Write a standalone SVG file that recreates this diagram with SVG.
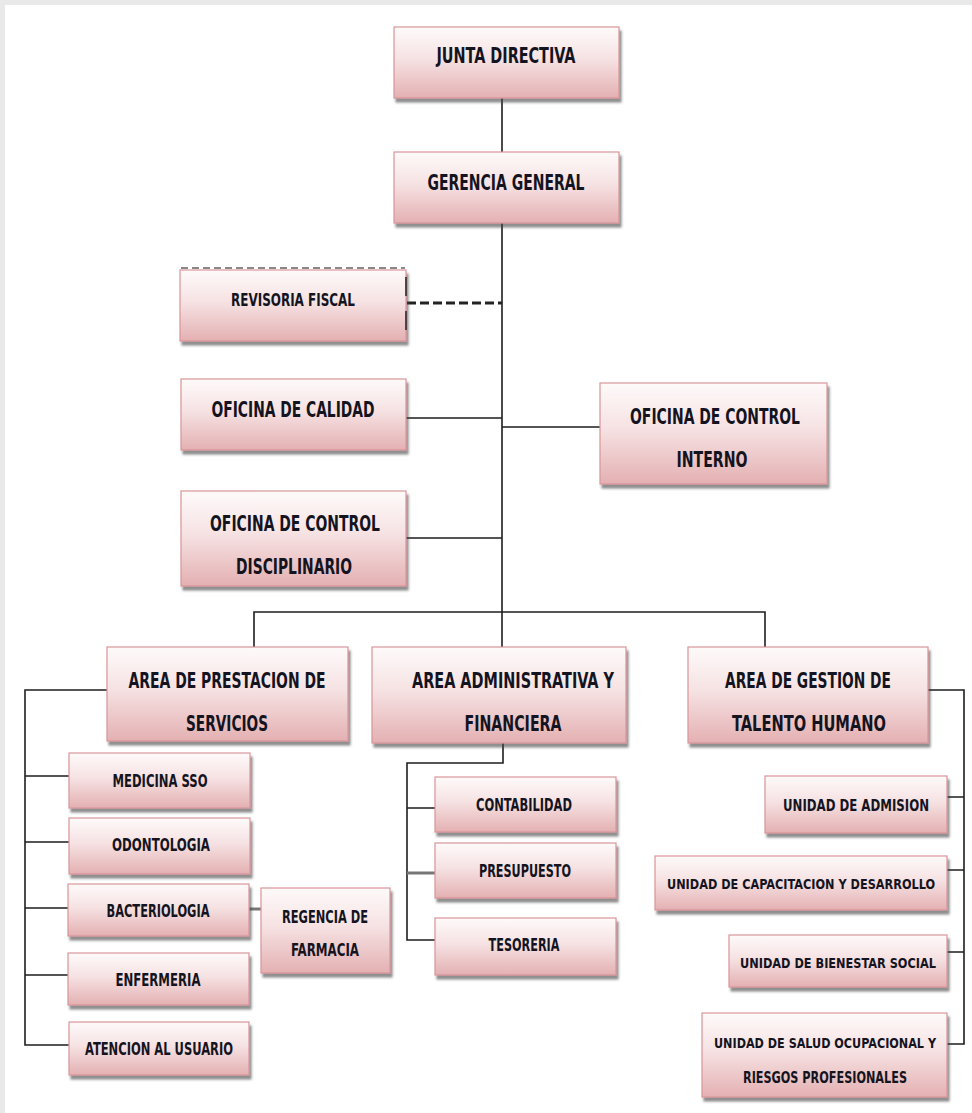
<svg xmlns="http://www.w3.org/2000/svg" width="972" height="1113" viewBox="0 0 972 1113">
<defs>
<linearGradient id="g" x1="0" y1="0" x2="0" y2="1">
<stop offset="0" stop-color="#fefafa"/>
<stop offset="0.45" stop-color="#f6e2e3"/>
<stop offset="1" stop-color="#e4b0b2"/>
</linearGradient>
<filter id="sh" x="-5%" y="-10%" width="115%" height="130%">
<feDropShadow dx="2" dy="4" stdDeviation="1.2" flood-color="#444" flood-opacity="0.6"/>
</filter>
</defs>
<style>
.b{fill:url(#g);stroke:#d9959a;stroke-width:1.2;filter:url(#sh)}
.t{font-family:"Liberation Sans Narrow","DejaVu Sans Condensed","Liberation Sans",sans-serif;font-weight:bold;fill:#141420;text-anchor:middle;font-size:22px}
.s{font-size:18px}
.m{font-size:16px}
.x{font-size:14px}
.c{fill:none;stroke:#1e1e1e;stroke-width:1.6}
.cg{fill:none;stroke:#777;stroke-width:3}
</style>
<rect x="0" y="0" width="972" height="1113" fill="#e9e9e9"/>
<rect x="5" y="5" width="967" height="1108" fill="#ffffff"/>

<g id="connectors">
<path class="c" d="M502 98V612M254 647V612H765V647M502 612V647"/>
<path class="c" d="M406 418H502M502 427H600M406 538H502"/>
<path d="M407 303H502" fill="none" stroke="#222" stroke-width="3" stroke-dasharray="9,4"/>
<path class="c" d="M107 690H25V1045H69M25 776H69M25 842H69M25 908H68M25 975H68"/>
<path class="cg" d="M249 909H261" stroke-width="2.5"/>
<path class="c" d="M503 743V763H407V940H435M407 808H435"/>
<path class="cg" d="M407 873H435" stroke-width="2.5"/>
<path class="c" d="M928 690H964V1044H947M947 797H964M947 870H964M947 952H964"/>
</g>

<g id="junta"><rect class="b" x="394" y="27" width="225" height="71"/><text class="t" x="506" y="63" textLength="139" lengthAdjust="spacingAndGlyphs">JUNTA DIRECTIVA</text></g>
<g id="gerencia"><rect class="b" x="394" y="152" width="225" height="71"/><text class="t" x="506" y="190" textLength="157" lengthAdjust="spacingAndGlyphs">GERENCIA GENERAL</text></g>
<g id="revisoria"><rect class="b" x="180" y="270" width="226" height="71"/>
<path d="M181 268H405" stroke="#888" stroke-width="2" stroke-dasharray="7,4"/>
<path d="M406 277V296M406 311V330" stroke="#222" stroke-width="1.5"/>
<text class="t s" x="293" y="306" textLength="124" lengthAdjust="spacingAndGlyphs">REVISORIA FISCAL</text></g>
<g id="calidad"><rect class="b" x="181" y="379" width="225" height="71"/><text class="t" x="293" y="417" textLength="163" lengthAdjust="spacingAndGlyphs">OFICINA DE CALIDAD</text></g>
<g id="control-interno"><rect class="b" x="600" y="383" width="227" height="101"/><text class="t" x="715" y="424" textLength="170" lengthAdjust="spacingAndGlyphs">OFICINA DE CONTROL</text><text class="t" x="712" y="467" textLength="71" lengthAdjust="spacingAndGlyphs">INTERNO</text></g>
<g id="control-disciplinario"><rect class="b" x="181" y="491" width="225" height="95"/><text class="t" x="295" y="531" textLength="170" lengthAdjust="spacingAndGlyphs">OFICINA DE CONTROL</text><text class="t" x="294" y="574" textLength="116" lengthAdjust="spacingAndGlyphs">DISCIPLINARIO</text></g>

<g id="area-prestacion"><rect class="b" x="107" y="647" width="241" height="94"/><text class="t" x="227" y="688" textLength="197" lengthAdjust="spacingAndGlyphs">AREA DE PRESTACION  DE</text><text class="t" x="227" y="731" textLength="82" lengthAdjust="spacingAndGlyphs">SERVICIOS</text></g>
<g id="area-administrativa"><rect class="b" x="372" y="647" width="254" height="96"/><text class="t" x="513" y="688" textLength="202" lengthAdjust="spacingAndGlyphs">AREA ADMINISTRATIVA  Y</text><text class="t" x="513" y="731" textLength="97" lengthAdjust="spacingAndGlyphs">FINANCIERA</text></g>
<g id="area-talento"><rect class="b" x="688" y="647" width="240" height="96"/><text class="t" x="808" y="688" textLength="166" lengthAdjust="spacingAndGlyphs">AREA DE GESTION DE</text><text class="t" x="809" y="731" textLength="154" lengthAdjust="spacingAndGlyphs">TALENTO HUMANO</text></g>

<g id="medicina"><rect class="b" x="69" y="753" width="181" height="55"/><text class="t s" x="160" y="787" textLength="95" lengthAdjust="spacingAndGlyphs">MEDICINA SSO</text></g>
<g id="odontologia"><rect class="b" x="69" y="818" width="181" height="56"/><text class="t s" x="161" y="851" textLength="98" lengthAdjust="spacingAndGlyphs">ODONTOLOGIA</text></g>
<g id="bacteriologia"><rect class="b" x="68" y="884" width="181" height="52"/><text class="t s" x="158" y="917" textLength="103" lengthAdjust="spacingAndGlyphs">BACTERIOLOGIA</text></g>
<g id="enfermeria"><rect class="b" x="68" y="953" width="181" height="52"/><text class="t s" x="158" y="986" textLength="85" lengthAdjust="spacingAndGlyphs">ENFERMERIA</text></g>
<g id="atencion"><rect class="b" x="69" y="1022" width="180" height="53"/><text class="t s" x="159" y="1055" textLength="148" lengthAdjust="spacingAndGlyphs">ATENCION AL USUARIO</text></g>
<g id="regencia"><rect class="b" x="261" y="888" width="129" height="85"/><text class="t s" x="325" y="923" textLength="86" lengthAdjust="spacingAndGlyphs">REGENCIA DE</text><text class="t s" x="325" y="956" textLength="68" lengthAdjust="spacingAndGlyphs">FARMACIA</text></g>

<g id="contabilidad"><rect class="b" x="435" y="777" width="181" height="55"/><text class="t s" x="524" y="811" textLength="96" lengthAdjust="spacingAndGlyphs">CONTABILIDAD</text></g>
<g id="presupuesto"><rect class="b" x="435" y="843" width="181" height="55"/><text class="t s" x="525" y="877" textLength="92" lengthAdjust="spacingAndGlyphs">PRESUPUESTO</text></g>
<g id="tesoreria"><rect class="b" x="435" y="918" width="181" height="57"/><text class="t s" x="524" y="951" textLength="71" lengthAdjust="spacingAndGlyphs">TESORERIA</text></g>

<g id="admision"><rect class="b" x="765" y="776" width="182" height="57"/><text class="t m" x="856" y="811" textLength="146" lengthAdjust="spacingAndGlyphs">UNIDAD DE ADMISION</text></g>
<g id="capacitacion"><rect class="b" x="655" y="856" width="292" height="54"/><text class="t x" x="801" y="889" textLength="268" lengthAdjust="spacingAndGlyphs">UNIDAD DE CAPACITACION Y DESARROLLO</text></g>
<g id="bienestar"><rect class="b" x="729" y="935" width="218" height="52"/><text class="t x" x="838" y="968" textLength="196" lengthAdjust="spacingAndGlyphs">UNIDAD DE BIENESTAR SOCIAL</text></g>
<g id="salud"><rect class="b" x="702" y="1013" width="245" height="84"/><text class="t x" x="825" y="1048" textLength="222" lengthAdjust="spacingAndGlyphs">UNIDAD DE SALUD OCUPACIONAL Y</text><text class="t m" x="825" y="1083" textLength="164" lengthAdjust="spacingAndGlyphs">RIESGOS PROFESIONALES</text></g>
</svg>
